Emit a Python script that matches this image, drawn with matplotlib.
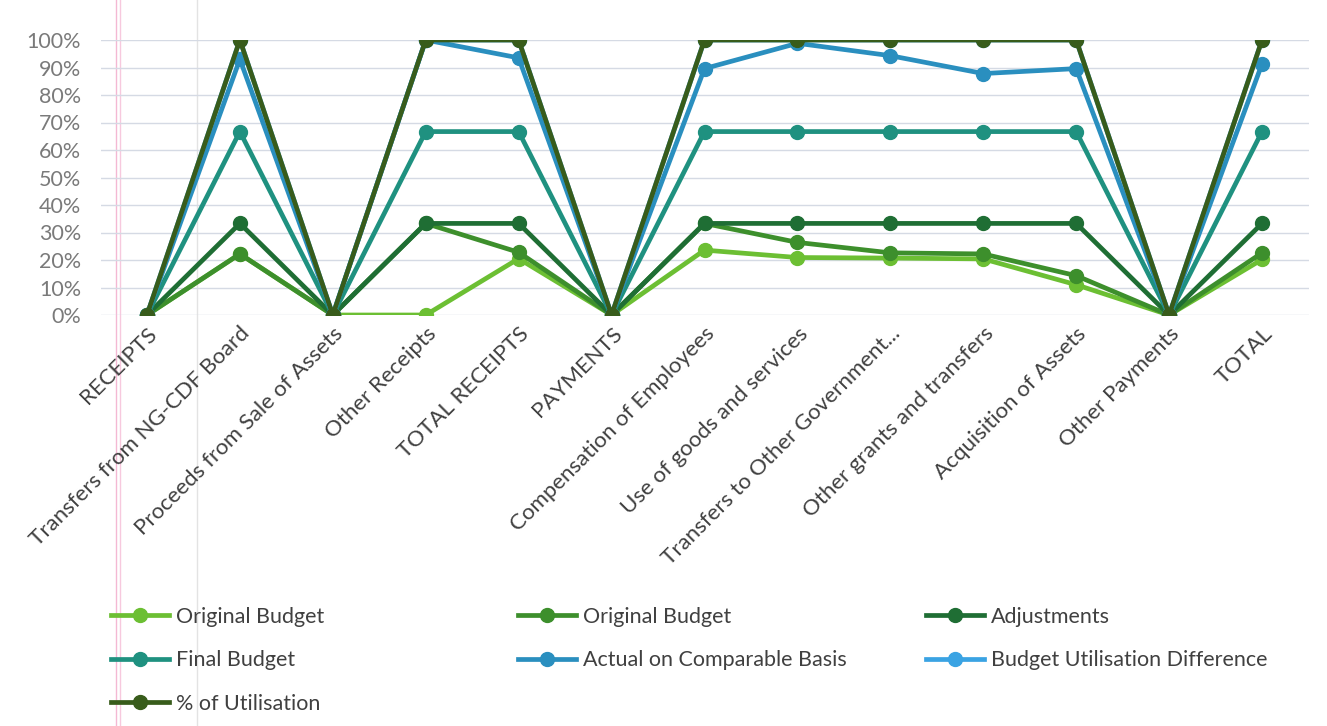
import matplotlib
matplotlib.use("Agg")
import matplotlib.pyplot as plt
from matplotlib.ticker import PercentFormatter
from matplotlib.lines import Line2D

categories = ["RECEIPTS", "Transfers from NG-CDF Board", "Proceeds from Sale of Assets",
              "Other Receipts", "TOTAL RECEIPTS", "PAYMENTS", "Compensation of Employees",
              "Use of goods and services", "Transfers to Other Government...",
              "Other grants and transfers", "Acquisition of Assets", "Other Payments", "TOTAL"]

# cumulative (stacked) shares as shown on the chart, in %
original_budget_1 = [0, 22.2, 0, 0, 20.5, 0, 23.6, 20.9, 20.7, 20.4, 11.0, 0, 20.2]
original_budget_2 = [0, 22.2, 0, 33.3, 22.8, 0, 33.3, 26.4, 22.6, 22.2, 14.3, 0, 22.6]
adjustments = [0, 33.3, 0, 33.3, 33.3, 0, 33.3, 33.3, 33.3, 33.3, 33.3, 0, 33.3]
final_budget = [0, 66.7, 0, 66.7, 66.7, 0, 66.7, 66.7, 66.7, 66.7, 66.7, 0, 66.7]
actual = [0, 93.0, 0, 100, 93.5, 0, 89.6, 98.8, 94.3, 87.8, 89.6, 0, 91.3]
utilisation_diff = [0, 100, 0, 100, 100, 0, 100, 100, 100, 100, 100, 0, 100]
pct_utilisation = [0, 100, 0, 100, 100, 0, 100, 100, 100, 100, 100, 0, 100]

series = [
    ("Original Budget", original_budget_1, "#6cbf33"),
    ("Original Budget", original_budget_2, "#3d8f2c"),
    ("Adjustments", adjustments, "#1f6e34"),
    ("Final Budget", final_budget, "#1f9180"),
    ("Actual on Comparable Basis", actual, "#2a8fbf"),
    ("Budget Utilisation Difference", utilisation_diff, "#3aa3e3"),
    ("% of Utilisation", pct_utilisation, "#385c1b"),
]

plt.rcParams['font.family'] = ['Lato', 'DejaVu Sans']

fig = plt.figure(figsize=(13.27, 7.26), dpi=100)
ax = fig.add_axes([100.5 / 1327, 1 - 315 / 726, 1208 / 1327, 275 / 726])

# faint scan artefact lines seen on the page
for xp, c, a in [(116, "#f2a6c8", 0.8), (120, "#f2a6c8", 0.6), (197, "#c8c8c8", 0.5)]:
    fig.add_artist(Line2D([xp / 1327, xp / 1327], [0, 1], color=c, lw=1, alpha=a,
                          transform=fig.transFigure, zorder=0))

x = list(range(len(categories)))
handles = []
for name, vals, col in series:
    h, = ax.plot(x, [v / 100 for v in vals], color=col, lw=3.4, marker="o", ms=10,
                 label=name, solid_joinstyle="round")
    handles.append(h)

ax.set_xlim(-0.5, len(categories) - 0.5)
ax.set_ylim(0, 1.0)
ax.set_yticks([i / 10 for i in range(11)])
ax.yaxis.set_major_formatter(PercentFormatter(1.0, decimals=0))
ax.set_xticks(x)
ax.set_xticklabels(categories, rotation=45, ha="right", rotation_mode="anchor",
                   fontsize=16, color="#404040")
ax.tick_params(axis="y", labelsize=15.5, labelcolor="#7a7a7a", length=0, pad=14)
ax.tick_params(axis="x", length=0, pad=6)
ax.grid(axis="y", color="#d5dae4", lw=1.0)
ax.set_axisbelow(True)
for s in ax.spines.values():
    s.set_visible(False)
ax.patch.set_alpha(0)

cols = [[0, 3, 6], [1, 4], [2, 5]]
xs = [102, 509, 917]
for idx, xp in zip(cols, xs):
    fig.legend([handles[i] for i in idx], [series[i][0] for i in idx],
               loc="upper left", bbox_to_anchor=(xp / 1327, 1 - 598 / 726),
               frameon=False, fontsize=15.5, handlelength=2.7,
               labelspacing=1.1, handletextpad=0.35, labelcolor="#404040",
               borderaxespad=0)

fig.savefig("out.png", dpi=100, facecolor="white")
